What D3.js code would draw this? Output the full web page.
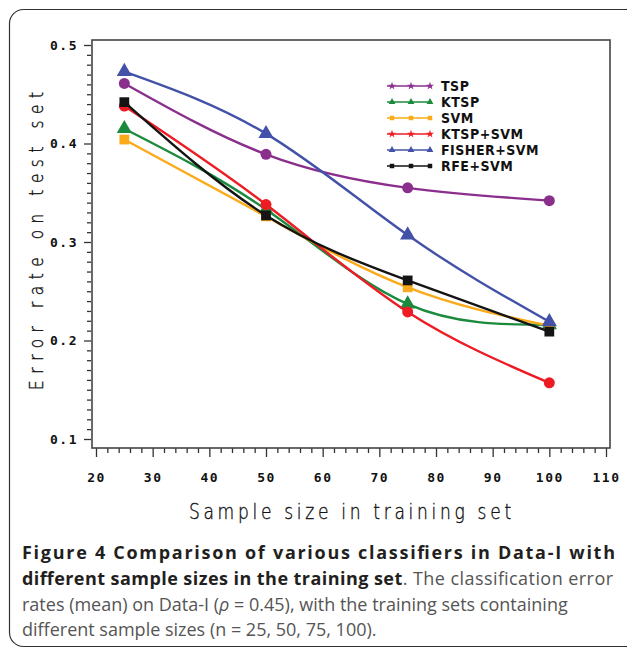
<!DOCTYPE html>
<html>
<head>
<meta charset="utf-8">
<script src="https://cdn.jsdelivr.net/npm/d3@7"></script>
<style>
  html, body { margin: 0; padding: 0; background: #fff; }
  svg { display: block; }
  .tick text { font-family: "DejaVu Sans Mono", monospace; font-weight: bold; font-size: 13px; fill: #111; }
  .thin { font-family: "DejaVu Sans", sans-serif; font-weight: 200; fill: #111; stroke: #111; stroke-width: 0.35; }
  .cap { font-family: "Open Sans", sans-serif; font-size: 18px; }
</style>
</head>
<body>
<svg id="chart" width="627" height="651"></svg>
<script>
// data
const sampleSizes = [25, 50, 75, 100];
const seriesNames = ['TSP', 'KTSP', 'SVM', 'KTSP+SVM', 'FISHER+SVM', 'RFE+SVM'];
const tspErr = [0.461, 0.389, 0.355, 0.342];
const ktspErr = [0.415, 0.333, 0.237, 0.216];
const svmErr = [0.404, 0.326, 0.254, 0.215];
const ktspSvmErr = [0.438, 0.338, 0.229, 0.157];
const fisherSvmErr = [0.473, 0.410, 0.307, 0.219];
const rfeSvmErr = [0.442, 0.327, 0.261, 0.209];
const xTickValues = [20, 30, 40, 50, 60, 70, 80, 90, 100, 110];
const yTickValues = [0.1, 0.2, 0.3, 0.4, 0.5];

// styles
const colors = ['#8a2f8c', '#1b8a3c', '#fbaa19', '#ed1c24', '#4352a8', '#141414'];
const symbols = [d3.symbolCircle, d3.symbolTriangle, d3.symbolSquare, d3.symbolCircle, d3.symbolTriangle, d3.symbolSquare];
const allErr = [tspErr, ktspErr, svmErr, ktspSvmErr, fisherSvmErr, rfeSvmErr];

const series = seriesNames.map((name, i) => ({
  name, color: colors[i], symbol: symbols[i],
  values: sampleSizes.map((n, j) => ({ n, err: allErr[i][j] }))
}));

const svg = d3.select('#chart');

// outer rounded box of the figure panel
svg.append('rect')
  .attr('x', 9.5).attr('y', 9.5)
  .attr('width', 640).attr('height', 637)
  .attr('rx', 14)
  .attr('fill', 'none').attr('stroke', '#333').attr('stroke-width', 1.2);

const frame = { left: 92, top: 40, right: 610, bottom: 448 };

const x = d3.scaleLinear().domain([20, 110]).range([96, 606]);
const y = d3.scaleLinear().domain([0.1, 0.5]).range([439, 45]);

// x axis
const minorX = d3.range(20, 111, 2).filter(v => v % 10 !== 0);
svg.append('g')
  .attr('transform', `translate(0,${frame.bottom})`)
  .call(d3.axisBottom(x).tickValues(minorX).tickSize(5).tickFormat(''))
  .call(g => g.select('.domain').remove())
  .call(g => g.selectAll('line').attr('stroke', '#333').attr('stroke-width', 1.3));
svg.append('g')
  .attr('transform', `translate(0,${frame.bottom})`)
  .call(d3.axisBottom(x).tickValues(xTickValues).tickSize(9).tickPadding(16).tickFormat(d3.format('d')))
  .call(g => g.select('.domain').remove())
  .call(g => g.selectAll('line').attr('stroke', '#333').attr('stroke-width', 1.3))
  .call(g => g.selectAll('text').attr('letter-spacing', 1.5));

// y axis
const minorY = d3.range(10, 51).map(v => v / 100).filter(v => Math.round(v * 100) % 10 !== 0);
svg.append('g')
  .attr('transform', `translate(${frame.left - 1},0)`)
  .call(d3.axisLeft(y).tickValues(minorY).tickSize(4).tickFormat(''))
  .call(g => g.select('.domain').remove())
  .call(g => g.selectAll('line').attr('stroke', '#333').attr('stroke-width', 1.3));
svg.append('g')
  .attr('transform', `translate(${frame.left - 1},0)`)
  .call(d3.axisLeft(y).tickValues(yTickValues).tickSize(7).tickPadding(6).tickFormat(d3.format('.1f')))
  .call(g => g.select('.domain').remove())
  .call(g => g.selectAll('line').attr('stroke', '#333').attr('stroke-width', 1.3))
  .call(g => g.selectAll('text').attr('letter-spacing', 1.5));

// plot frame
svg.append('rect')
  .attr('x', frame.left).attr('y', frame.top)
  .attr('width', frame.right - frame.left).attr('height', frame.bottom - frame.top)
  .attr('fill', 'none').attr('stroke', '#444').attr('stroke-width', 1.6);

// axis titles
svg.append('text').attr('class', 'thin')
  .attr('transform', 'translate(350,519) scale(0.9,1.1)')
  .attr('text-anchor', 'middle')
  .attr('font-size', 19)
  .attr('textLength', 358).attr('lengthAdjust', 'spacing')
  .text('Sample size in training set');

svg.append('text').attr('class', 'thin')
  .attr('transform', 'translate(43,241) rotate(-90) scale(0.9,1.1)')
  .attr('text-anchor', 'middle')
  .attr('font-size', 17)
  .attr('textLength', 331).attr('lengthAdjust', 'spacing')
  .text('Error rate on test set');

// lines and markers
const line = d3.line()
  .x(d => x(d.n))
  .y(d => y(d.err))
  .curve(d3.curveNatural);

const sg = svg.append('g').selectAll('g')
  .data(series)
  .enter()
  .append('g');

sg.append('path')
  .attr('d', d => line(d.values))
  .attr('fill', 'none')
  .attr('stroke', d => d.color)
  .attr('stroke-width', 2.4);

sg.selectAll('path.mark')
  .data(d => d.values.map(v => ({ ...v, s: d })))
  .enter()
  .append('path')
  .attr('class', 'mark')
  .attr('transform', d => `translate(${x(d.n)},${y(d.err)})`)
  .attr('d', d => d3.symbol().type(d.s.symbol).size(d.s.symbol === d3.symbolTriangle ? 100 : 95)())
  .attr('fill', d => d.s.color);

// legend
const ly = d3.scalePoint().domain(seriesNames).range([86, 166]);
const legend = svg.append('g').selectAll('g')
  .data(series)
  .enter()
  .append('g')
  .attr('transform', d => `translate(387,${ly(d.name)})`);

legend.append('line')
  .attr('x1', 0).attr('x2', 45)
  .attr('stroke', d => d.color).attr('stroke-width', 1.6);

legend.selectAll('path')
  .data(d => [5, 24, 43].map(p => ({ p, s: d })))
  .enter()
  .append('path')
  .attr('transform', d => `translate(${d.p},0)`)
  .attr('d', d => d3.symbol().type(d.s.symbol === d3.symbolCircle ? d3.symbolStar : d.s.symbol).size(20)())
  .attr('fill', d => d.s.color);

legend.append('text')
  .attr('x', 54).attr('y', 5)
  .attr('font-family', '"DejaVu Sans Condensed", sans-serif')
  .attr('font-weight', 'bold')
  .attr('font-size', 14)
  .attr('letter-spacing', 0.5)
  .attr('fill', '#111')
  .text(d => d.name);

// caption
const cap = svg.append('g').attr('class', 'cap');
const bold = '#231f20', reg = '#555';

cap.append('text')
  .attr('x', 22).attr('y', 559)
  .attr('font-weight', 'bold').attr('fill', bold)
  .attr('textLength', 593).attr('lengthAdjust', 'spacing')
  .text('Figure 4 Comparison of various classifiers in Data-I with');

const l2 = cap.append('text')
  .attr('x', 22).attr('y', 585)
  .attr('textLength', 591).attr('lengthAdjust', 'spacing');
l2.append('tspan').attr('font-weight', 'bold').attr('fill', bold).text('different sample sizes in the training set');
l2.append('tspan').attr('fill', reg).text('. The classification error');

const l3 = cap.append('text')
  .attr('x', 22).attr('y', 611).attr('fill', reg);
l3.append('tspan').text('rates (mean) on Data-I (');
l3.append('tspan').attr('font-style', 'italic').text('ρ');
l3.append('tspan').text(' = 0.45), with the training sets containing');

cap.append('text')
  .attr('x', 22).attr('y', 636).attr('fill', reg)
  .text('different sample sizes (n = 25, 50, 75, 100).');
</script>
</body>
</html>
